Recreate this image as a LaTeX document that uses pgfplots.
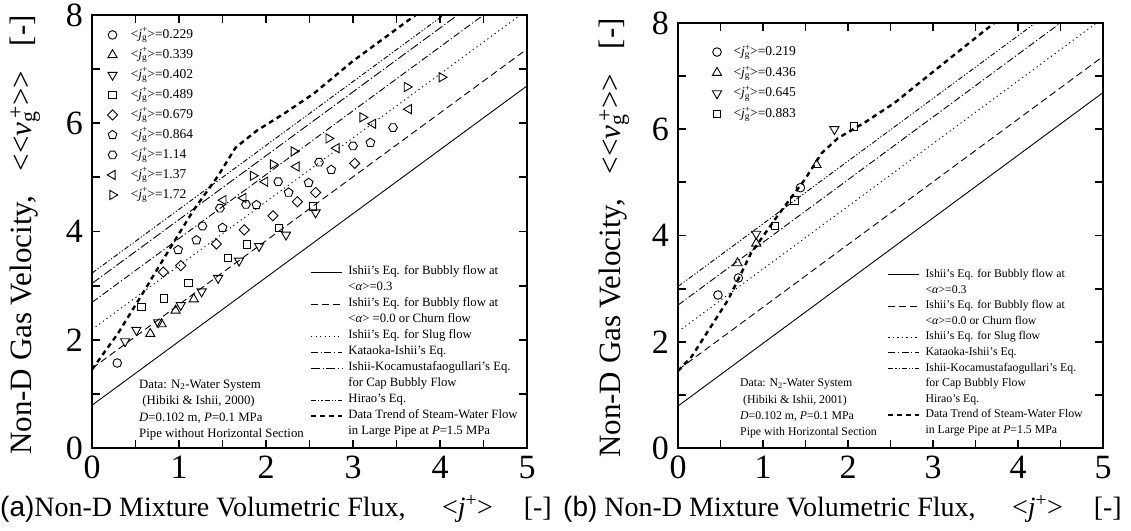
\documentclass[border=0pt]{standalone}
\usepackage{fontspec}
\setmainfont{Liberation Serif}
\setsansfont{Liberation Sans}
\usepackage{pgfplots}
\pgfplotsset{compat=1.18}
\usetikzlibrary{plotmarks}

% open hexagon mark
\pgfdeclareplotmark{hexagon}{%
  \pgfpathmoveto{\pgfpointpolar{0}{\pgfplotmarksize}}%
  \pgfpathlineto{\pgfpointpolar{60}{\pgfplotmarksize}}%
  \pgfpathlineto{\pgfpointpolar{120}{\pgfplotmarksize}}%
  \pgfpathlineto{\pgfpointpolar{180}{\pgfplotmarksize}}%
  \pgfpathlineto{\pgfpointpolar{240}{\pgfplotmarksize}}%
  \pgfpathlineto{\pgfpointpolar{300}{\pgfplotmarksize}}%
  \pgfpathclose
  \pgfusepathqstroke}

\newcommand{\jg}{\textit{j}\rlap{\textsuperscript{+}}\textsubscript{g}}
\newcommand{\vg}{\textit{v}\rlap{\textsuperscript{\,+}}\textsubscript{g}\,}

\pgfplotsset{
  panel/.style={
    scale only axis, anchor=south west,
    xmin=0, xmax=5, ymin=0, ymax=8,
    xtick={0,1,...,5}, ytick={0,2,...,8},
    minor x tick num=1, minor y tick num=1,
    tick align=inside,
    major tick length=8pt, minor tick length=8pt,
    tick style={line width=1.8pt, black},
    axis line style={line width=2.2pt},
    tick label style={font=\fontsize{34}{34}\selectfont, inner sep=0pt},
    xticklabel style={yshift=-8pt},
    yticklabel style={xshift=-9pt},
    /pgf/number format/assume math mode=true,
  },
  linelegend/.style 2 args={
    legend cell align=left,
    legend style={draw=none, fill=none, inner sep=0pt, outer sep=0pt,
      anchor=north west, row sep=0pt, column sep=5pt,
      font=\fontsize{#1}{#1}\selectfont,
      nodes={inner sep=0pt, text height=#2, text depth=5pt}},
    legend image code/.code={\draw[##1] (0pt,0pt) -- (31pt,0pt);},
  },
  marklegend/.style 2 args={
    hide axis, legend cell align=left,
    legend style={draw=none, fill=none, inner sep=0pt, outer sep=0pt,
      anchor=north west, row sep=0pt, column sep=#1,
      font=\fontsize{13.5}{13.5}\selectfont,
      nodes={inner sep=0pt, text height=#2, text depth=6.8pt}},
    legend image code/.code={\draw[##1] plot coordinates {(0pt,0pt)};},
  },
  eqsolid/.style={black, line width=0.9pt, solid},
  eqdash/.style={black, line width=0.9pt, dash pattern=on 7pt off 4pt},
  eqdot/.style={black, line width=0.9pt, dash pattern=on 1.2pt off 3.3pt},
  eqka/.style={black, line width=0.9pt, dash pattern=on 7pt off 2.5pt on 1.2pt off 2.5pt},
  eqik/.style={black, line width=0.9pt, dash pattern=on 9pt off 2.5pt on 1.2pt off 2.5pt},
  eqikb/.style={black, line width=0.9pt, dash pattern=on 5pt off 2pt on 1.2pt off 2pt on 1.2pt off 2pt},
  eqhi/.style={black, line width=0.9pt, dash pattern=on 5pt off 2pt on 1.2pt off 2pt on 1.2pt off 2pt},
  trend/.style={black, line width=2.4pt, dash pattern=on 5pt off 4pt},
  mk/.style={only marks, black, line width=0.9pt},
}

\begin{document}
\begin{tikzpicture}
\path (0,0) rectangle (1131pt,530pt);

% ---------------- panel (a): correlations ----------------
\begin{axis}[panel, at={(92pt,82pt)}, width=435pt, height=433pt,
  linelegend={12.7}{11pt}, legend style={at={(0.501,0.425)}}]
  \addplot[eqsolid] coordinates {(0,0.79) (5,6.69)};
  \addlegendentry{Ishii's Eq. for Bubbly flow at}
  \addlegendimage{empty legend}
  \addlegendentry{<\textit{α}>=0.3}
  \addplot[eqdash] coordinates {(0,1.47) (5,7.37)};
  \addlegendentry{Ishii's Eq. for Bubbly flow at}
  \addlegendimage{empty legend}
  \addlegendentry{<\textit{α}> =0.0 or Churn flow}
  \addplot[eqdot] coordinates {(0,2.19) (5,8.09)};
  \addlegendentry{Ishii's Eq. for Slug flow}
  \addplot[eqka] coordinates {(0,2.69) (5,8.59)};
  \addlegendentry{Kataoka-Ishii's Eq.}
  \addplot[eqik] coordinates {(0,3.04) (5,8.94)};
  \addlegendentry{Ishii-Kocamustafaogullari's Eq.}
  \addlegendimage{empty legend}
  \addlegendentry{for Cap Bubbly Flow}
  \addplot[eqhi] coordinates {(0,3.23) (5,9.13)};
  \addlegendentry{Hirao's Eq.}
  \addplot[trend] coordinates {(0,1.45) (0.3,2.12) (0.58,2.85) (0.9,3.70)
    (1.17,4.40) (1.45,5.03) (1.65,5.55) (1.9,5.87) (2.2,6.17) (2.55,6.55)
    (3.0,7.15) (3.72,8.0)};
  \addlegendentry{Data Trend of Steam-Water Flow}
  \addlegendimage{empty legend}
  \addlegendentry{in Large Pipe at \textit{P}=1.5 MPa}
\end{axis}

% ---------------- panel (a): N2-water data ----------------
\begin{axis}[panel, at={(92pt,82pt)}, width=435pt, height=433pt,
  marklegend={13pt}{13.2pt}, legend style={at={(0.035,0.977)}}]
  \addplot[mk, mark=o, mark size=4.3pt] coordinates {(0.29,1.57)};
  \addlegendentry{<\jg>=0.229}
  \addplot[mk, mark=triangle, mark size=5.3pt] coordinates {
    (0.67,2.11) (0.80,2.29) (0.96,2.54) (1.17,2.75)};
  \addlegendentry{<\jg>=0.339}
  \addplot[mk, mark=triangle, mark size=5.3pt, mark options={rotate=180}] coordinates {
    (0.38,1.97) (0.51,2.18) (0.76,2.32) (1.02,2.64) (1.26,2.89)
    (1.45,3.14) (1.69,3.46) (1.92,3.73) (2.23,3.94) (2.57,4.35)};
  \addlegendentry{<\jg>=0.402}
  \addplot[mk, mark=square, mark size=3.7pt] coordinates {
    (0.57,2.61) (0.83,2.76) (1.11,3.05) (1.56,3.51) (1.78,3.76)
    (2.15,4.07) (2.54,4.46)};
  \addlegendentry{<\jg>=0.489}
  \addplot[mk, mark=square, mark size=3.6pt, mark options={rotate=45}] coordinates {
    (0.82,3.25) (1.02,3.37) (1.43,3.77) (1.75,4.03) (2.08,4.29)
    (2.36,4.55) (2.57,4.72) (3.02,5.26)};
  \addlegendentry{<\jg>=0.679}
  \addplot[mk, mark=pentagon, mark size=4.6pt] coordinates {
    (0.99,3.66) (1.20,3.84) (1.50,4.07) (1.89,4.49) (2.26,4.72)
    (2.49,4.90) (2.75,5.14) (3.20,5.64)};
  \addlegendentry{<\jg>=0.864}
  \addplot[mk, mark=hexagon, mark size=4.4pt] coordinates {
    (1.27,4.10) (1.47,4.43) (1.77,4.50) (2.14,4.92) (2.61,5.28)
    (3.00,5.58) (3.46,5.92)};
  \addlegendentry{<\jg>=1.14}
  \addplot[mk, mark=triangle, mark size=5.3pt, mark options={rotate=90}] coordinates {
    (1.51,4.58) (1.74,4.62) (1.99,4.92) (2.35,5.20) (2.81,5.54)
    (3.23,5.99) (3.64,6.26)};
  \addlegendentry{<\jg>=1.37}
  \addplot[mk, mark=triangle, mark size=5.3pt, mark options={rotate=-90}] coordinates {
    (1.85,5.03) (2.08,5.24) (2.32,5.48) (2.72,5.72) (3.11,6.11)
    (3.62,6.67) (4.02,6.85)};
  \addlegendentry{<\jg>=1.72}
\end{axis}

% ---------------- panel (b): correlations ----------------
\begin{axis}[panel, at={(678pt,82pt)}, width=425pt, height=425pt,
  linelegend={11.8}{10.6pt}, legend style={at={(0.492,0.426)}}]
  \addplot[eqsolid] coordinates {(0,0.79) (5,6.69)};
  \addlegendentry{Ishii's Eq. for Bubbly flow at}
  \addlegendimage{empty legend}
  \addlegendentry{<\textit{α}>=0.3}
  \addplot[eqdash] coordinates {(0,1.47) (5,7.37)};
  \addlegendentry{Ishii's Eq. for Bubbly flow at}
  \addlegendimage{empty legend}
  \addlegendentry{<\textit{α}>=0.0 or Churn flow}
  \addplot[eqdot] coordinates {(0,2.19) (5,8.09)};
  \addlegendentry{Ishii's Eq. for Slug flow}
  \addplot[eqka] coordinates {(0,2.69) (5,8.59)};
  \addlegendentry{Kataoka-Ishii's Eq.}
  \addplot[eqikb] coordinates {(0,3.04) (5,8.94)};
  \addlegendentry{Ishii-Kocamustafaogullari's Eq.}
  \addlegendimage{empty legend}
  \addlegendentry{for Cap Bubbly Flow}
  \addlegendimage{empty legend}
  \addlegendentry{Hirao's Eq.}
  \addplot[trend] coordinates {(0,1.45) (0.16,1.72) (0.59,2.79) (0.86,3.67)
    (1.18,4.39) (1.49,5.05) (1.69,5.55) (1.88,5.83) (2.2,6.13) (2.55,6.50)
    (3.0,7.08) (3.72,8.0)};
  \addlegendentry{Data Trend of Steam-Water Flow}
  \addlegendimage{empty legend}
  \addlegendentry{in Large Pipe at \textit{P}=1.5 MPa}
\end{axis}

% ---------------- panel (b): N2-water data ----------------
\begin{axis}[panel, at={(678pt,82pt)}, width=425pt, height=425pt,
  marklegend={12pt}{13.9pt}, legend style={at={(0.081,0.956)}}]
  \addplot[mk, mark=o, mark size=4.3pt] coordinates {
    (0.47,2.88) (0.71,3.20) (1.44,4.90)};
  \addlegendentry{<\jg>=0.219}
  \addplot[mk, mark=triangle, mark size=5.3pt] coordinates {
    (0.70,3.48) (0.92,3.85) (1.63,5.33)};
  \addlegendentry{<\jg>=0.436}
  \addplot[mk, mark=triangle, mark size=5.3pt, mark options={rotate=180}] coordinates {
    (0.92,4.03) (1.84,6.00)};
  \addlegendentry{<\jg>=0.645}
  \addplot[mk, mark=square, mark size=3.7pt] coordinates {
    (1.14,4.18) (1.37,4.66) (2.07,6.05)};
  \addlegendentry{<\jg>=0.883}
\end{axis}

% ---------------- notes ----------------
\begin{scope}[every node/.style={anchor=base west, inner sep=0pt,
    font=\fontsize{12.8}{12.8}\selectfont}]
  \node at (139pt,142pt) {Data: N\textsubscript{2}-Water System};
  \node at (139pt,125pt) {\ (Hibiki \& Ishii, 2000)};
  \node at (139pt,109pt) {\textit{D}=0.102 m, \textit{P}=0.1 MPa};
  \node at (139pt,93pt) {Pipe without Horizontal Section};
\end{scope}
\begin{scope}[every node/.style={anchor=base west, inner sep=0pt,
    font=\fontsize{11.8}{11.8}\selectfont}]
  \node at (740pt,143pt) {Data: N\textsubscript{2}-Water System};
  \node at (740pt,127pt) {\ (Hibiki \& Ishii, 2001)};
  \node at (740pt,111pt) {\textit{D}=0.102 m, \textit{P}=0.1 MPa};
  \node at (740pt,95pt) {Pipe with Horizontal Section};
\end{scope}

% ---------------- axis titles ----------------
\node[rotate=90, inner sep=0pt, font=\fontsize{31}{31}\selectfont] at (25pt,295pt)
  {Non-D Gas Velocity,\hspace{0.8em}<{}<\vg>{}>\hspace{0.8em}[-]};
\node[rotate=90, inner sep=0pt, font=\fontsize{31}{31}\selectfont] at (614pt,292pt)
  {Non-D Gas Velocity,\hspace{0.8em}<{}<\vg>{}>\hspace{0.8em}[-]};
\node[anchor=base west, inner sep=0pt, font=\fontsize{28}{28}\selectfont] at (0pt,14pt)
  {{\sffamily (a)}Non-D Mixture Volumetric Flux,\hspace{1.3em}<\textit{j}\textsuperscript{+}>\hspace{1.1em}[-]};
\node[anchor=base west, inner sep=0pt, font=\fontsize{28}{28}\selectfont] at (563pt,14pt)
  {{\sffamily (b)} Non-D Mixture Volumetric Flux,\hspace{1.3em}<\textit{j}\textsuperscript{+}>\hspace{1.1em}[-]};
\end{tikzpicture}
\end{document}
